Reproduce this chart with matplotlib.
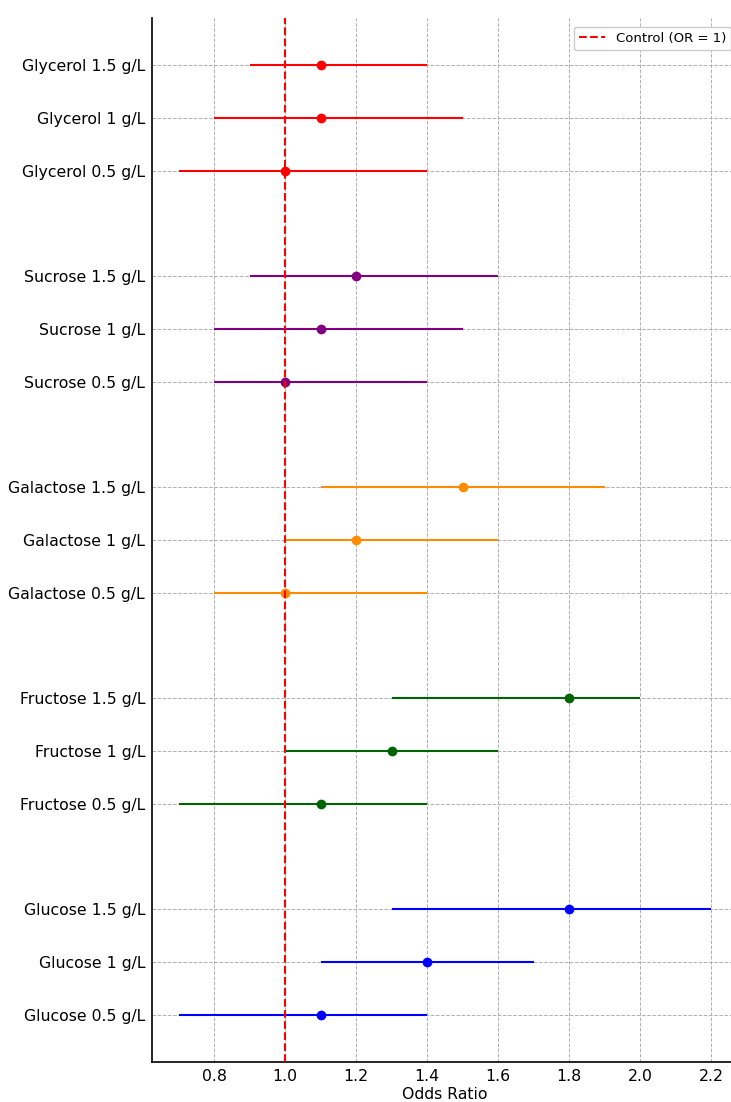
import matplotlib
matplotlib.use("Agg")
import matplotlib.pyplot as plt

labels = [
    "Glucose 0.5 g/L", "Glucose 1 g/L", "Glucose 1.5 g/L",
    "Fructose 0.5 g/L", "Fructose 1 g/L", "Fructose 1.5 g/L",
    "Galactose 0.5 g/L", "Galactose 1 g/L", "Galactose 1.5 g/L",
    "Sucrose 0.5 g/L", "Sucrose 1 g/L", "Sucrose 1.5 g/L",
    "Glycerol 0.5 g/L", "Glycerol 1 g/L", "Glycerol 1.5 g/L",
]
positions = [0, 1, 2, 4, 5, 6, 8, 9, 10, 12, 13, 14, 16, 17, 18]
odds = [1.1, 1.4, 1.8, 1.1, 1.3, 1.8, 1.0, 1.2, 1.5, 1.0, 1.1, 1.2, 1.0, 1.1, 1.1]
lower = [0.7, 1.1, 1.3, 0.7, 1.0, 1.3, 0.8, 1.0, 1.1, 0.8, 0.8, 0.9, 0.7, 0.8, 0.9]
upper = [1.4, 1.7, 2.2, 1.4, 1.6, 2.0, 1.4, 1.6, 1.9, 1.4, 1.5, 1.6, 1.4, 1.5, 1.4]
colors = ["blue"] * 3 + ["darkgreen"] * 3 + ["darkorange"] * 3 + ["purple"] * 3 + ["red"] * 3
xticks = [0.8, 1.0, 1.2, 1.4, 1.6, 1.8, 2.0, 2.2]

W, H = 731, 1102
fig = plt.figure(figsize=(W / 100, H / 100), dpi=100)
left = 152 / W
bottom = (H - 1062) / H
height = (1062 - 18) / H
width = 586 / W
ax = fig.add_axes([left, bottom, width, height])

for y, o, lo, hi, c in zip(positions, odds, lower, upper, colors):
    ax.errorbar(o, y, xerr=[[o - lo], [hi - o]], fmt="o", color=c,
                ecolor=c, elinewidth=1.5, markersize=6, capsize=0, zorder=3)

ax.axvline(1.0, color="red", linestyle="--", linewidth=1.5, label="Control (OR = 1)", zorder=4)

ax.set_yticks(positions)
ax.set_yticklabels(labels, fontsize=11.3)
ax.set_xticks(xticks)
ax.tick_params(axis="x", labelsize=11.3, length=0, pad=5)
ax.tick_params(axis="y", length=0, pad=5)
ax.set_xlim(0.625, 2.275)
ax.set_ylim(-0.9, 18.9)
ax.set_xlabel("Odds Ratio", fontsize=11.3, labelpad=2)
ax.grid(True, linestyle="--", color="#b0b0b0", linewidth=0.7)
ax.set_axisbelow(True)
ax.spines["top"].set_visible(False)
ax.spines["right"].set_visible(False)
ax.spines["left"].set_linewidth(1.2)
ax.spines["bottom"].set_linewidth(1.2)

fig.legend(loc="upper right", bbox_to_anchor=(738 / W, 1 - 20 / H), fontsize=9.5,
           frameon=True, fancybox=True, framealpha=1, edgecolor="#cccccc")

fig.savefig("out.png", dpi=100)
